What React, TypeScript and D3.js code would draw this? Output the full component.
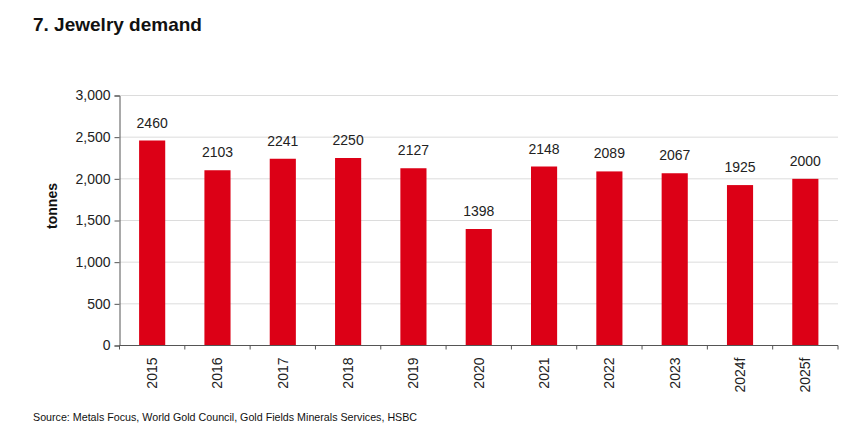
import { useRef, useEffect } from "react";
import * as d3 from "d3";

const years = ["2015", "2016", "2017", "2018", "2019", "2020", "2021", "2022", "2023", "2024f", "2025f"];
const demand = [2460, 2103, 2241, 2250, 2127, 1398, 2148, 2089, 2067, 1925, 2000];
const yTicks = [0, 500, 1000, 1500, 2000, 2500, 3000];

const W = 848;
const H = 446;

const App: React.FC = () => {
  const svgRef = useRef<SVGSVGElement | null>(null);

  useEffect(() => {
    if (!svgRef.current) return;
    const svg = d3.select(svgRef.current);
    svg.selectAll("*").remove();

    const font = "Arial, 'Liberation Sans', sans-serif";
    const left = 119.5;
    const right = 838;
    const top = 95.5;
    const bottom = 345.5;

    const x = d3
      .scaleBand<string>()
      .domain(years)
      .range([left, right])
      .paddingInner(0.6)
      .paddingOuter(0.3);

    const y = d3.scaleLinear().domain([0, 3000]).range([bottom, top]);

    // gridlines
    svg
      .append("g")
      .selectAll("line")
      .data(yTicks.filter((t) => t > 0))
      .join("line")
      .attr("x1", left)
      .attr("x2", right)
      .attr("y1", (d) => y(d))
      .attr("y2", (d) => y(d))
      .attr("stroke", "#dcdcdc")
      .attr("stroke-width", 1);

    // bars
    svg
      .append("g")
      .selectAll("rect")
      .data(demand)
      .join("rect")
      .attr("x", (_, i) => x(years[i])!)
      .attr("y", (d) => y(d))
      .attr("width", x.bandwidth())
      .attr("height", (d) => bottom - y(d))
      .attr("fill", "#dc0016");

    // value labels
    svg
      .append("g")
      .selectAll("text")
      .data(demand)
      .join("text")
      .attr("x", (_, i) => x(years[i])! + x.bandwidth() / 2)
      .attr("y", (d) => y(d) - 13)
      .attr("text-anchor", "middle")
      .attr("font-family", font)
      .attr("font-size", 14)
      .attr("fill", "#222")
      .text((d) => String(d));

    // y axis
    const yAxis = svg
      .append("g")
      .attr("transform", `translate(${left},0)`)
      .call(
        d3
          .axisLeft(y)
          .tickValues(yTicks)
          .tickSize(5)
          .tickPadding(4)
          .tickFormat((d) => d3.format(",")(d as number))
      );
    yAxis.select(".domain").attr("stroke", "#555");
    yAxis.selectAll(".tick line").attr("stroke", "#555");
    yAxis
      .selectAll("text")
      .attr("font-family", font)
      .attr("font-size", 14)
      .attr("fill", "#222");

    // x axis
    const step = x.step();
    const boundaries = d3.range(years.length + 1).map((i) => left + i * step);
    const xg = svg.append("g");
    xg.append("line")
      .attr("x1", left)
      .attr("x2", right)
      .attr("y1", bottom)
      .attr("y2", bottom)
      .attr("stroke", "#555");
    xg.selectAll("line.tk")
      .data(boundaries)
      .join("line")
      .attr("class", "tk")
      .attr("x1", (d) => d)
      .attr("x2", (d) => d)
      .attr("y1", bottom)
      .attr("y2", bottom + 4)
      .attr("stroke", "#555");
    xg.selectAll("text")
      .data(years)
      .join("text")
      .attr(
        "transform",
        (d) => `translate(${x(d)! + x.bandwidth() / 2 + 5},${bottom + 12}) rotate(-90)`
      )
      .attr("text-anchor", "end")
      .attr("font-family", font)
      .attr("font-size", 14)
      .attr("fill", "#222")
      .text((d) => d);

    // y label
    svg
      .append("text")
      .attr("transform", `translate(57,206) rotate(-90)`)
      .attr("text-anchor", "middle")
      .attr("font-family", font)
      .attr("font-size", 14)
      .attr("font-weight", "bold")
      .attr("fill", "#111")
      .text("tonnes");

    // title
    svg
      .append("text")
      .attr("x", 33)
      .attr("y", 31)
      .attr("font-family", font)
      .attr("font-size", 19)
      .attr("font-weight", "bold")
      .attr("fill", "#111")
      .text("7. Jewelry demand");

    // source
    svg
      .append("text")
      .attr("x", 33)
      .attr("y", 421)
      .attr("font-family", font)
      .attr("font-size", 10.7)
      .attr("fill", "#111")
      .text("Source: Metals Focus, World Gold Council, Gold Fields Minerals Services, HSBC");
  }, []);

  return (
    <div style={{ position: "absolute", left: 0, top: 0, width: W, height: H, background: "#fff" }}>
      <svg ref={svgRef} width={W} height={H} style={{ display: "block" }}></svg>
    </div>
  );
};

export default App;
